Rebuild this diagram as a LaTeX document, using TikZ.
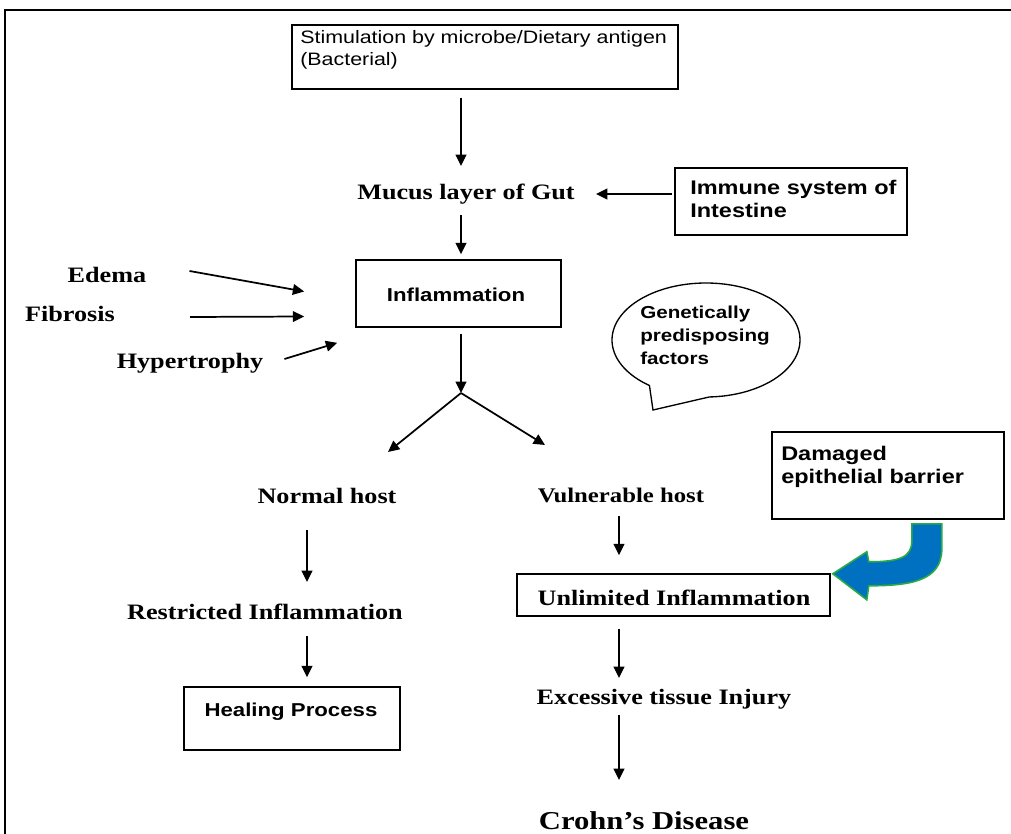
\documentclass[tikz,border=0pt]{standalone}
\usepackage{fontspec}
\setmainfont{Liberation Serif}[FakeStretch=1.19]
\newfontfamily\arialf{Liberation Sans}[FakeStretch=1.19]
\usetikzlibrary{arrows.meta,calc,fit}
\definecolor{blueA}{RGB}{0,112,192}
\definecolor{greenA}{RGB}{40,170,70}
\tikzset{
 px/.style={x=0.75pt,y=-0.75pt},
 arr/.style={line width=1.3pt, -{Triangle[length=8.5pt,width=8pt]}},
 boxf/.style={draw, line width=1.2pt, inner sep=0pt},
 lbl/.style={inner sep=0pt, font=\bfseries\fontsize{16.5}{20}\selectfont},
 sans/.style={inner sep=0pt, align=left, font=\arialf\fontsize{13.5}{17}\selectfont},
 sansb/.style={inner sep=0pt, align=left, font=\arialf\bfseries\fontsize{14}{17.25}\selectfont},
 sansbl/.style={sansb, font=\arialf\bfseries\fontsize{14.8}{17.25}\selectfont},
}
\begin{document}
\begin{tikzpicture}[px]
\useasboundingbox (0,0) rectangle (1011,834);
\clip (0,0) rectangle (1011,834);
\draw[line width=1.8pt] (5,10) rectangle (1030,850);
\coordinate (spine) at (461,0);
\coordinate (rspine) at (619,0);

\node[boxf, fit={(292,25) (678,89)}] (stim) {};
\node[sans, anchor=north west] (stimtxt) at (300,30) {Stimulation by microbe/Dietary antigen\\(Bacterial)};

\node[lbl] (mucus) at (466,194) {Mucus layer of Gut};
\node[boxf, fit={(675,168) (907,235)}] (immune) {};
\node[sansbl, anchor=north west] (immunetxt) at (690,180) {Immune system of\\Intestine};

\node[boxf, fit={(356,260) (561,327)}] (infl) {};
\node[sansb] (infltxt) at (456,295) {Inflammation};

\node[lbl] (edema) at (107,275) {Edema};
\node[lbl] (fibrosis) at (70,314) {Fibrosis};
\node[lbl] (hyper) at (190,363) {Hypertrophy};
\coordinate (split) at (461,393);

\draw[line width=1pt, fill=white] plot[domain=127:448, samples=120] ({706+94*cos(\x)},{340+57*sin(\x)}) -- (653,410) -- cycle;
\node[sansb, font=\arialf\bfseries\fontsize{13}{17.25}\selectfont, anchor=north west] (genetxt) at (640,306) {Genetically\\predisposing\\factors};

\node[boxf, fit={(772,432) (1004,519)}] (damaged) {};
\node[sansbl, anchor=north west] (damtxt) at (781,446) {Damaged\\epithelial barrier};

\node[lbl] (normal) at (327,496) {Normal host};
\node[lbl, font=\bfseries\fontsize{15.6}{18}\selectfont] (vuln) at (621,495) {Vulnerable host};
\node[lbl] (restr) at (265,612) {Restricted Inflammation};
\node[boxf, fit={(517,574) (830,616)}] (unlim) {};
\node[lbl] (unlimtxt) at (674,598) {Unlimited Inflammation};
\node[boxf, fit={(184,687) (400,750)}] (heal) {};
\node[sansb] (healtxt) at (291,712) {Healing Process};
\node[lbl] (excess) at (664,699) {Excessive tissue Injury};
\node[lbl, font=\bfseries\fontsize{19.3}{22}\selectfont] (crohn) at (644,821) {Crohn’s Disease};

% connectors
\draw[arr] ($(stim.south -| spine)+(0,8)$) -- ($(mucus.center -| spine)+(0,-28)$);
\draw[arr] ($(immune.west |- mucus.center)+(-2,0)$) -- ($(mucus.east)+(21,0)$);
\draw[arr] ($(mucus.center -| spine)+(0,21)$) -- ($(infl.north -| spine)+(0,-5)$);
\draw[arr] ($(edema.east)+(43,-4)$) -- ($(infl.west)+(-51,-2)$);
\draw[arr] ($(fibrosis.east)+(75,3)$) -- ($(infl.west)+(-51,23)$);
\draw[arr] ($(hyper.east)+(21,-4)$) -- ($(infl.south west)+(-18,15)$);
\draw[arr] ($(infl.south -| spine)+(0,6)$) -- (split);
\draw[arr] (split) -- ($(normal.center)+(61,-44)$);
\draw[arr] (split) -- ($(vuln.center)+(-76,-50)$);
\draw[arr] ($(normal.center)+(-20,34)$) -- ($(restr.center)+(42,-30)$);
\draw[arr] ($(restr.center)+(42,24)$) -- ($(heal.north)+(15,-9)$);
\draw[arr] ($(vuln.center)+(-2,21)$) -- ($(unlim.north -| rspine)+(0,-18)$);
\draw[arr] ($(unlim.south -| rspine)+(0,12)$) -- ($(excess.center -| rspine)+(0,-21)$);
\draw[arr] ($(excess.center -| rspine)+(0,16)$) -- ($(crohn.center -| rspine)+(0,-41)$);

% curved block arrow from damaged barrier to unlimited inflammation
\begin{scope}[shift={(damaged.south east)}]
\filldraw[fill=blueA, draw=greenA, line width=1.2pt] (-93,4) -- (-63,4) -- (-63,29) .. controls (-63,61) and (-94,66) .. (-136,66) -- (-138,80) -- (-172,54) -- (-138,32) -- (-136,42) .. controls (-104,42) and (-93,37) .. (-93,21) -- cycle;
\end{scope}
\end{tikzpicture}
\end{document}
